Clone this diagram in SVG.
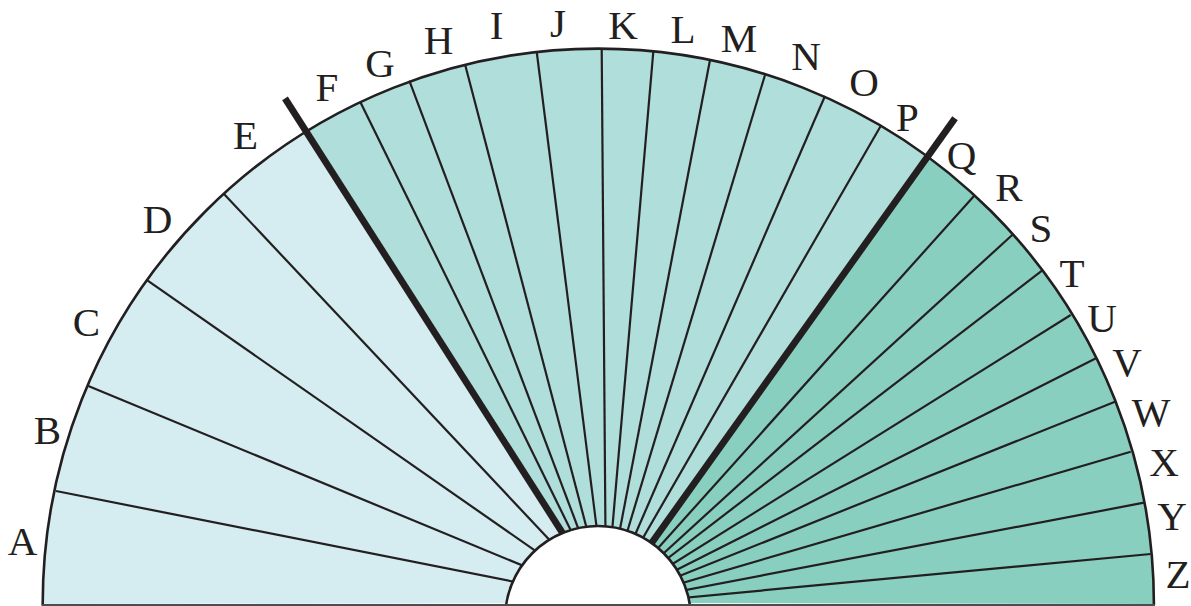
<svg xmlns="http://www.w3.org/2000/svg" width="1191" height="606" viewBox="0 0 1191 606">
<style>
.s1{fill:#d5edf0}
.s2{fill:#b0dedb}
.s3{fill:#89cfc0}
.thin{stroke:#231f20;stroke-width:2.2;fill:none}
.thick{stroke:#231f20;stroke-width:6.8;fill:none}
.rim{stroke:#231f20;stroke-width:2.6;fill:none}
.lbl{font-family:"Liberation Serif","Times New Roman",serif;font-size:41px;fill:#231f20;text-anchor:middle}
</style>
<rect width="1191" height="606" fill="#ffffff"/>
<g id="sectors">
<path class="s1" d="M 42.7 604 A 555.6 555.6 0 0 1 306.4 131.9 L 607 603 Z"/>
<path class="s2" d="M 306.4 131.9 A 555.6 555.6 0 0 1 927.6 156.6 L 607 603 Z"/>
<path class="s3" d="M 927.6 156.6 A 555.6 555.6 0 0 1 1153.9 604 L 607 603 Z"/>
</g>
<g id="connectors">
<line class="thin" x1="56" y1="491" x2="606" y2="600"/>
<line class="thin" x1="88.3" y1="386" x2="606" y2="600"/>
<line class="thin" x1="147.7" y1="280.7" x2="606" y2="600"/>
<line class="thin" x1="224" y1="194" x2="606" y2="600"/>
<line class="thin" x1="360.7" y1="102.7" x2="606" y2="602"/>
<line class="thin" x1="409.3" y1="80.7" x2="606" y2="602"/>
<line class="thin" x1="465" y1="64.3" x2="606" y2="602"/>
<line class="thin" x1="536.7" y1="51.7" x2="606" y2="602"/>
<line class="thin" x1="601.7" y1="48.3" x2="606" y2="602"/>
<line class="thin" x1="653.3" y1="51.7" x2="606" y2="602"/>
<line class="thin" x1="710" y1="60" x2="606" y2="602"/>
<line class="thin" x1="765" y1="75" x2="606" y2="602"/>
<line class="thin" x1="825" y1="96" x2="606" y2="602"/>
<line class="thin" x1="880.7" y1="126" x2="606" y2="602"/>
<line class="thin" x1="974" y1="196" x2="607" y2="605"/>
<line class="thin" x1="1013.3" y1="234" x2="607" y2="605"/>
<line class="thin" x1="1042" y1="270.7" x2="607" y2="605"/>
<line class="thin" x1="1070.7" y1="315" x2="607" y2="605"/>
<line class="thin" x1="1096" y1="358.3" x2="607" y2="605"/>
<line class="thin" x1="1115" y1="401.7" x2="607" y2="605"/>
<line class="thin" x1="1130.7" y1="451.7" x2="607" y2="605"/>
<line class="thin" x1="1144" y1="502.7" x2="607" y2="605"/>
<line class="thin" x1="1150.7" y1="554" x2="607" y2="605"/>
<line class="thick" x1="285" y1="98.3" x2="608.5" y2="605"/>
<line class="thick" x1="955" y1="118.3" x2="607.3" y2="605"/>
</g>
<g id="rim">
<path class="rim" d="M 42.7 605 L 42.7 604 A 555.6 555.6 0 0 1 1153.9 604 L 1153.9 605"/>
</g>
<g id="hub">
<circle cx="598" cy="619" r="93" fill="#ffffff" stroke="#231f20" stroke-width="2.6"/>
</g>
<line id="baseline" x1="41.5" y1="605" x2="1155" y2="605" stroke="#4d4d4f" stroke-width="2"/>
<g id="labels">
<text class="lbl" x="22.5" y="555">A</text>
<text class="lbl" x="47.5" y="444">B</text>
<text class="lbl" x="86.5" y="336">C</text>
<text class="lbl" x="157.5" y="233">D</text>
<text class="lbl" x="245.5" y="149">E</text>
<text class="lbl" x="327" y="101">F</text>
<text class="lbl" x="380" y="77">G</text>
<text class="lbl" x="438.5" y="54">H</text>
<text class="lbl" x="496.7" y="39">I</text>
<text class="lbl" x="558" y="37">J</text>
<text class="lbl" x="623" y="39">K</text>
<text class="lbl" x="683" y="43">L</text>
<text class="lbl" x="739" y="52">M</text>
<text class="lbl" x="806" y="70">N</text>
<text class="lbl" x="864" y="96">O</text>
<text class="lbl" x="907.5" y="131">P</text>
<text class="lbl" x="961.5" y="169">Q</text>
<text class="lbl" x="1009" y="201">R</text>
<text class="lbl" x="1041" y="242">S</text>
<text class="lbl" x="1072" y="287">T</text>
<text class="lbl" x="1102" y="332">U</text>
<text class="lbl" x="1127" y="376">V</text>
<text class="lbl" x="1151" y="426">W</text>
<text class="lbl" x="1164" y="476">X</text>
<text class="lbl" x="1172" y="530">Y</text>
<text class="lbl" x="1178" y="588">Z</text>
</g>
</svg>
